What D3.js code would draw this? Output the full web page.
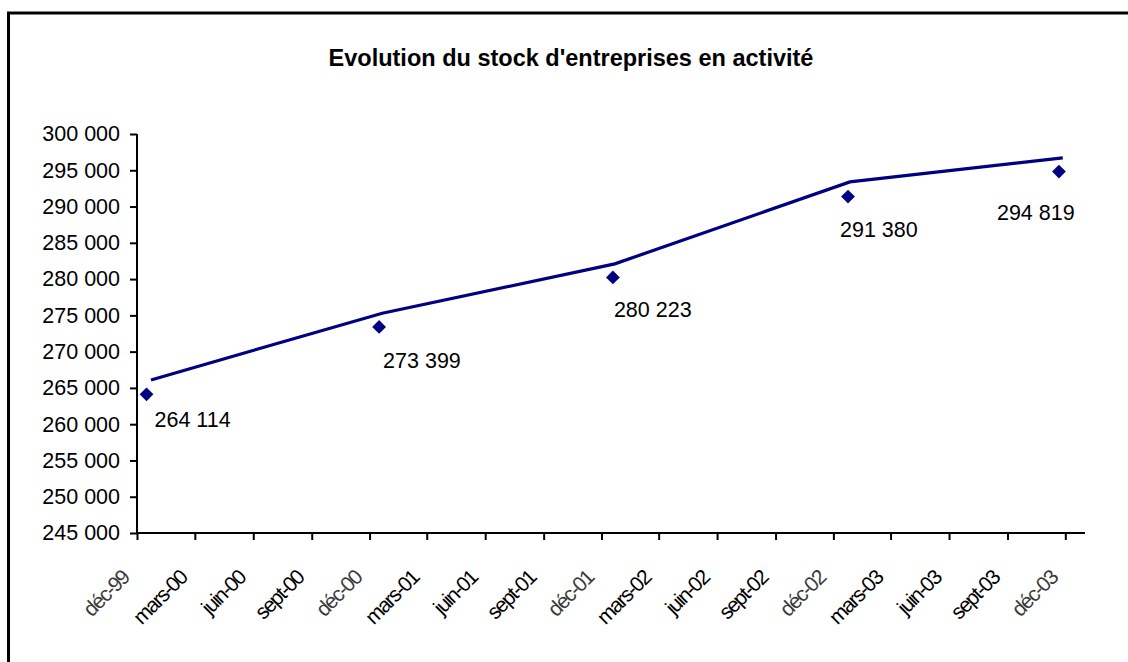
<!DOCTYPE html>
<html><head><meta charset="utf-8">
<script src="https://cdn.jsdelivr.net/npm/d3@7/dist/d3.min.js"></script>
<style>
html,body{margin:0;padding:0;background:#fff;}
svg text{font-family:"Liberation Sans",Arial,sans-serif;}
</style></head>
<body><svg id="c" width="1128" height="662"></svg>
<script>
// Data
const pointDates = ["1999-12-16","2000-12-16","2001-12-19","2002-12-24","2003-11-21"];
const pointValues = [264114, 273399, 280223, 291380, 294819];
const pointLabels = ["264 114","273 399","280 223","291 380","294 819"];
const lineDates = ["1999-12-23","2000-12-21","2001-12-22","2002-12-27","2003-11-27"];
const lineValues = [266100, 275300, 282100, 293400, 296700];
const yTicks = [245000,250000,255000,260000,265000,270000,275000,280000,285000,290000,295000,300000];
const xTickLabels = ["déc-99","mars-00","juin-00","sept-00","déc-00","mars-01","juin-01","sept-01","déc-01","mars-02","juin-02","sept-02","déc-02","mars-03","juin-03","sept-03","déc-03"];
const title = "Evolution du stock d'entreprises en activité";

const parse = d3.timeParse("%Y-%m-%d");
const svg = d3.select("#c");
const L = 137, R = 1085, T = 134, B = 533;

// frame
svg.append("rect").attr("x",8.5).attr("y",13).attr("width",1400).attr("height",900)
  .attr("fill","none").attr("stroke","#000").attr("stroke-width",3);

svg.append("text").attr("x",571).attr("y",66).attr("text-anchor","middle")
  .attr("font-weight","bold").attr("font-size",23.5).text(title);

const x = d3.scaleTime().domain([new Date(1999,11,1), new Date(2004,0,1)]).range([L,R]);
const y = d3.scaleLinear().domain([245000,300000]).range([B,T]);

const fmt = v => d3.format(",")(v).replace(/,/g," ");

// y axis
const ya = svg.append("g").attr("transform",`translate(${L},0)`)
  .call(d3.axisLeft(y).tickValues(yTicks).tickSize(7).tickPadding(10).tickFormat(fmt));
ya.selectAll("path,line").attr("stroke","#000").attr("stroke-width",2);
ya.select("path").attr("d",`M0,${T}V${B}`);
ya.selectAll("text").attr("font-size",21.5).attr("fill","#000").attr("font-family","Liberation Sans, Arial, sans-serif");

// x axis
const xTickDates = xTickLabels.map((l,i)=> new Date(1999, 11 + 3*i, 1));
const xa = svg.append("g").attr("transform",`translate(0,${B})`)
  .call(d3.axisBottom(x).tickValues(xTickDates).tickSize(7).tickFormat((d,i)=>xTickLabels[i]));
xa.selectAll("path,line").attr("stroke","#000").attr("stroke-width",2);
xa.select("path").attr("d",`M${L},0H${R}`);
xa.selectAll("text")
  .attr("font-size",21).attr("letter-spacing","-1.6px")
  .attr("fill",(d,i)=> xTickLabels[i].startsWith("déc") ? "#3a3a3a" : "#000")
  .attr("font-family","Liberation Sans, Arial, sans-serif")
  .attr("text-anchor","end").attr("dy",0).attr("y",0)
  .attr("transform","translate(-7,46) rotate(-45)");

// line
const lineData = lineDates.map((d,i)=>({date:parse(d), v:lineValues[i]}));
svg.append("path").datum(lineData)
  .attr("fill","none").attr("stroke","#000080").attr("stroke-width",3.2)
  .attr("d", d3.line().x(d=>x(d.date)).y(d=>y(d.v)));

// points
const pts = pointDates.map((d,i)=>({date:parse(d), v:pointValues[i], lab:pointLabels[i]}));
svg.selectAll(".pt").data(pts).join("path").attr("class","pt")
  .attr("d", d3.symbol(d3.symbolSquare, 95)())
  .attr("fill","#000080")
  .attr("transform", d=>`translate(${x(d.date)},${y(d.v)}) rotate(45)`);

const labOff = [[8,33],[4,41],[1,40],[-8,40],[-62,48]];
svg.selectAll(".lab").data(pts).join("text").attr("class","lab")
  .attr("x",(d,i)=>x(d.date)+labOff[i][0]).attr("y",(d,i)=>y(d.v)+labOff[i][1])
  .attr("font-size",21.5).attr("fill","#000").text(d=>d.lab);
</script></body></html>
